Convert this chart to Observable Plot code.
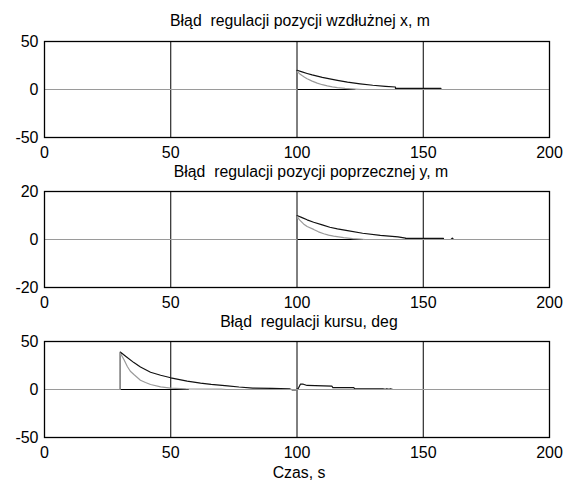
<!DOCTYPE html>
<html>
<head>
<meta charset="utf-8">
<script src="https://cdn.jsdelivr.net/npm/d3@7"></script>
<script src="https://cdn.jsdelivr.net/npm/@observablehq/plot@0.6"></script>
<style>
  html, body { margin: 0; padding: 0; background: white; }
  #chart svg { display: block; overflow: visible; }
</style>
</head>
<body>
<div id="chart"></div>
<script>
// ---------- shared ----------
const xTicks = [0, 50, 100, 150, 200];
const gridT = [50, 100, 150];
const xLabel = "Czas, s";

// ---------- panel 1: longitudinal position error x, m ----------
const title1 = "Błąd  regulacji pozycji wzdłużnej x, m";
const yTicks1 = [-50, 0, 50];
const blackT1 = [0, 100, 100, 102, 104, 106, 108, 110, 113, 116, 120, 125, 130, 135, 139, 139, 157, 157, 200];
const blackV1 = [0, 0, 20, 18.3, 16.7, 15.2, 13.9, 12.7, 11.1, 9.5, 7.6, 5.9, 4.4, 3.3, 2.6, 1.1, 1.1, 0, 0];
const grayT1 = [0, 100, 100, 101, 102, 103, 104, 106, 108, 110, 112, 114, 116, 119, 123, 126, 200];
const grayV1 = [0, 0, 19, 16.5, 14.5, 12.8, 11.2, 8.7, 6.6, 5.0, 3.7, 2.7, 1.9, 1.1, 0.4, 0, 0];
const refT1 = [100, 123];
const refV1 = [0, 0];

// ---------- panel 2: lateral position error y, m ----------
const title2 = "Błąd  regulacji pozycji poprzecznej y, m";
const yTicks2 = [-20, 0, 20];
const blackT2 = [0, 100, 100, 102, 104, 106.6, 110, 113, 116, 120, 126, 133, 140, 143, 143, 158, 158, 161, 161.5, 162, 200];
const blackV2 = [0, 0, 10, 9.1, 8.2, 7.2, 6.1, 5.1, 4.4, 3.7, 2.6, 1.7, 1.1, 0.6, 0.45, 0.45, 0, 0, 0.6, 0, 0];
const grayT2 = [0, 100, 100, 101, 102.6, 104, 106.6, 108.5, 110.6, 112.5, 114.5, 118.5, 122, 125, 127, 200];
const grayV2 = [0, 0, 9.7, 8.2, 6.5, 5.4, 4.2, 3.2, 2.4, 1.8, 1.4, 0.8, 0.4, 0.15, 0, 0];
const refT2 = [100, 126];
const refV2 = [0, 0];

// ---------- panel 3: heading error, deg ----------
const title3 = "Błąd  regulacji kursu, deg";
const yTicks3 = [-50, 0, 50];
const blackT3 = [0, 30, 30, 32, 35.4, 38, 42, 46, 50, 56.5, 61.8, 66, 72.5, 77, 82.5, 90, 97, 98, 99.5, 100.5, 101.4, 102.5, 104, 113.8, 114.2, 122.5, 122.8, 134, 135, 135.5, 136.5, 137, 138, 200];
const blackV3 = [0, 0, 39, 35, 28, 23.5, 18, 14.8, 12.2, 8.7, 6.6, 5.3, 3.8, 2.6, 1.5, 1.2, 0.8, -0.3, -0.3, 1, 5.7, 5.5, 4.2, 3.6, 2.0, 2.0, 0.8, 0.8, 0.2, 0.8, 0.1, 0.7, 0, 0];
const grayT3 = [0, 30, 30, 31.5, 32.8, 34, 35.4, 38, 40, 42, 46, 50, 56, 70, 72, 200];
const grayV3 = [0, 0, 38, 31, 24, 19, 15.6, 9.7, 7.3, 5.2, 2.8, 1.4, 0.7, 0.4, 0, 0];
const refT3 = [30, 57];
const refV3 = [0, 0];

// ---------- drawing ----------
const FONT = "'Liberation Sans', Arial, Helvetica, sans-serif";
const toRows = (T, V) => T.map((t, i) => ({t, v: V[i]}));

function panel({title, yTicks, bT, bV, gT, gV, rT, rV, height, marginTop, marginBottom, titleDy, titleDx, xlabel}) {
  const marks = [
    Plot.ruleX(gridT, {stroke: "#000", strokeWidth: 1}),
    Plot.line(toRows(rT, rV), {x: "t", y: "v", stroke: "#000", strokeWidth: 1}),
    Plot.line(toRows(bT, bV), {x: "t", y: "v", stroke: "#111", strokeWidth: 1.2}),
    Plot.line(toRows(gT, gV), {x: "t", y: "v", stroke: "#9a9a9a", strokeWidth: 1.2}),
    Plot.frame({stroke: "#000", strokeWidth: 1.3}),
    Plot.axisX({ticks: xTicks, tickSize: 0, tickPadding: 9, fontSize: 16, label: null, tickFormat: d => String(d)}),
    Plot.axisY({ticks: yTicks, tickSize: 0, tickPadding: 6, fontSize: 16, label: null, tickFormat: d => String(d)}),
    Plot.text([title], {frameAnchor: "top", dy: titleDy, dx: titleDx, fontSize: 15.8, lineAnchor: "middle", fill: "#000"})
  ];
  if (xlabel) marks.push(Plot.text([xlabel], {frameAnchor: "bottom", dy: 35, dx: 2, fontSize: 15.8, lineAnchor: "middle", fill: "#000"}));
  return Plot.plot({
    width: 571, height, marginLeft: 44, marginRight: 22, marginTop, marginBottom,
    style: {fontFamily: FONT, background: "transparent", color: "black", overflow: "visible"},
    x: {domain: [0, 200]},
    y: {domain: [yTicks[0], yTicks[2]]},
    marks
  });
}

const chart = document.getElementById("chart");
chart.append(panel({title: title1, yTicks: yTicks1, bT: blackT1, bV: blackV1, gT: grayT1, gV: grayV1, rT: refT1, rV: refV1, height: 162, marginTop: 41, marginBottom: 25, titleDy: -21, titleDx: 3}));
chart.append(panel({title: title2, yTicks: yTicks2, bT: blackT2, bV: blackV2, gT: grayT2, gV: grayV2, rT: refT2, rV: refV2, height: 150, marginTop: 29, marginBottom: 25, titleDy: -20, titleDx: 14}));
chart.append(panel({title: title3, yTicks: yTicks3, bT: blackT3, bV: blackV3, gT: grayT3, gV: grayV3, rT: refT3, rV: refV3, height: 168, marginTop: 29, marginBottom: 43, titleDy: -20, titleDx: 12, xlabel: xLabel}));
</script>
</body>
</html>
